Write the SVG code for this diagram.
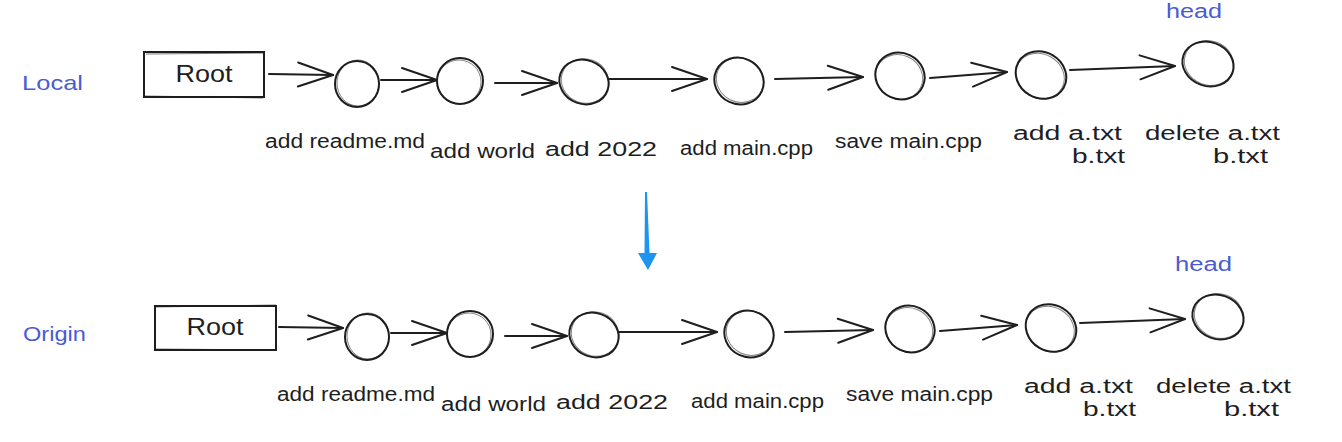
<svg xmlns="http://www.w3.org/2000/svg" width="1342" height="442" viewBox="0 0 1342 442">
<style>
.bg{fill:#ffffff}
.box{fill:none;stroke:#1e1e1e;stroke-width:2}
.box2{fill:none;stroke:#1e1e1e;stroke-width:1;opacity:.6}
.c{fill:none;stroke:#1e1e1e;stroke-width:2}
.c2{fill:none;stroke:#1e1e1e;stroke-width:1;opacity:.55}
.lbl{font-family:"Liberation Sans",sans-serif;font-size:20px;fill:#1e1e1e}
.root{font-family:"Liberation Sans",sans-serif;font-size:24px;fill:#1e1e1e}
.blue{font-family:"Liberation Sans",sans-serif;font-size:21px;fill:#4a5bd4}
.head{font-family:"Liberation Sans",sans-serif;font-size:20px;fill:#4a5bd4}
.ln{fill:none;stroke:#1e1e1e;stroke-width:2;stroke-linecap:round;marker-end:url(#ah)}
</style>
<defs>
<marker id="ah" markerUnits="userSpaceOnUse" markerWidth="42" markerHeight="30" refX="37" refY="14" orient="auto" viewBox="0 0 42 30">
<path d="M2,2 L37,14 L2,26" fill="none" stroke="#1e1e1e" stroke-width="2" stroke-linecap="round" stroke-linejoin="round"/>
</marker>
</defs>
<rect class="bg" x="0" y="0" width="1342" height="442"/>

<g id="label-local"><text class="blue" x="22" y="90" textLength="61" lengthAdjust="spacingAndGlyphs">Local</text></g>
<g id="label-origin"><text class="blue" x="23" y="341" textLength="63" lengthAdjust="spacingAndGlyphs">Origin</text></g>

<g id="connectors">
<path class="ln" d="M269,74 L333,75"/>
<path class="ln" d="M381,80 L437,80"/>
<path class="ln" d="M495,83 L557,83"/>
<path class="ln" d="M609,79 L707,79"/>
<path class="ln" d="M775,79 L863,77"/>
<path class="ln" d="M930,78 L1007,72"/>
<path class="ln" d="M1070,70 L1175,66"/>
<path class="ln" d="M279,327 L343,328"/>
<path class="ln" d="M391,333 L447,333"/>
<path class="ln" d="M505,336 L567,336"/>
<path class="ln" d="M619,332 L717,332"/>
<path class="ln" d="M785,332 L873,330"/>
<path class="ln" d="M940,331 L1017,325"/>
<path class="ln" d="M1080,323 L1185,319"/>
<path id="sync-arrow" d="M645,192 L647,192 L649.5,253 L657,253 L648,270 L638,253 L644.5,253 Z" fill="#1e93f0"/>
</g>

<!-- Local row -->
<g id="local-root">
<rect class="box" x="144" y="52" width="120" height="45"/>
<path class="box2" d="M146,54 L265,53 M145,96 L263,98"/>
<text class="root" x="204" y="82" text-anchor="middle" textLength="57" lengthAdjust="spacingAndGlyphs">Root</text>
</g>
<g id="local-c1"><ellipse class="c" cx="357" cy="84" rx="22" ry="23"/><ellipse class="c2" cx="358" cy="83" rx="21" ry="23"/>
<text class="lbl" x="265" y="148" textLength="160" lengthAdjust="spacingAndGlyphs">add readme.md</text></g>
<g id="local-c2"><ellipse class="c" cx="460" cy="81" rx="23" ry="23"/><ellipse class="c2" cx="459" cy="82" rx="22" ry="22"/>
<text class="lbl" x="430" y="158" textLength="105" lengthAdjust="spacingAndGlyphs">add world</text></g>
<g id="local-c3"><ellipse class="c" cx="584" cy="82" rx="25" ry="22" transform="rotate(20 584 82)"/><ellipse class="c2" cx="585" cy="81" rx="24" ry="22" transform="rotate(20 585 81)"/>
<text class="lbl" x="545" y="156" textLength="112" lengthAdjust="spacingAndGlyphs">add 2022</text></g>
<g id="local-c4"><ellipse class="c" cx="739" cy="81" rx="25" ry="23" transform="rotate(25 739 81)"/><ellipse class="c2" cx="740" cy="80" rx="24" ry="22" transform="rotate(25 740 80)"/>
<text class="lbl" x="680" y="155" textLength="133" lengthAdjust="spacingAndGlyphs">add main.cpp</text></g>
<g id="local-c5"><ellipse class="c" cx="900" cy="76" rx="25" ry="23" transform="rotate(25 900 76)"/><ellipse class="c2" cx="899" cy="77" rx="24" ry="22" transform="rotate(25 899 77)"/>
<text class="lbl" x="835" y="148" textLength="147" lengthAdjust="spacingAndGlyphs">save main.cpp</text></g>
<g id="local-c6"><ellipse class="c" cx="1041" cy="75" rx="26" ry="23" transform="rotate(30 1041 75)"/><ellipse class="c2" cx="1040" cy="76" rx="25" ry="22" transform="rotate(30 1040 76)"/>
<text class="lbl" x="1013" y="140" textLength="109" lengthAdjust="spacingAndGlyphs">add a.txt</text>
<text class="lbl" x="1072" y="163" textLength="53" lengthAdjust="spacingAndGlyphs">b.txt</text></g>
<g id="local-c7"><ellipse class="c" cx="1208" cy="64" rx="26" ry="22" transform="rotate(20 1208 64)"/><ellipse class="c2" cx="1209" cy="63" rx="25" ry="22" transform="rotate(20 1209 63)"/>
<text class="lbl" x="1145" y="140" textLength="135" lengthAdjust="spacingAndGlyphs">delete a.txt</text>
<text class="lbl" x="1213" y="163" textLength="55" lengthAdjust="spacingAndGlyphs">b.txt</text>
<text class="head" x="1166" y="18" textLength="56" lengthAdjust="spacingAndGlyphs">head</text></g>

<!-- Origin row -->
<g id="origin-root">
<rect class="box" x="155" y="306" width="121" height="44"/>
<path class="box2" d="M156,307 L276,305 M155,349 L277,350"/>
<text class="root" x="215" y="335" text-anchor="middle" textLength="57" lengthAdjust="spacingAndGlyphs">Root</text>
</g>
<g id="origin-c1"><ellipse class="c" cx="367" cy="337" rx="22" ry="23"/><ellipse class="c2" cx="368" cy="336" rx="21" ry="23"/>
<text class="lbl" x="277" y="401" textLength="158" lengthAdjust="spacingAndGlyphs">add readme.md</text></g>
<g id="origin-c2"><ellipse class="c" cx="470" cy="334" rx="23" ry="23"/><ellipse class="c2" cx="469" cy="335" rx="22" ry="22"/>
<text class="lbl" x="441" y="411" textLength="105" lengthAdjust="spacingAndGlyphs">add world</text></g>
<g id="origin-c3"><ellipse class="c" cx="594" cy="335" rx="25" ry="22" transform="rotate(20 594 335)"/><ellipse class="c2" cx="595" cy="334" rx="24" ry="22" transform="rotate(20 595 334)"/>
<text class="lbl" x="556" y="409" textLength="112" lengthAdjust="spacingAndGlyphs">add 2022</text></g>
<g id="origin-c4"><ellipse class="c" cx="749" cy="334" rx="25" ry="23" transform="rotate(25 749 334)"/><ellipse class="c2" cx="750" cy="333" rx="24" ry="22" transform="rotate(25 750 333)"/>
<text class="lbl" x="691" y="408" textLength="133" lengthAdjust="spacingAndGlyphs">add main.cpp</text></g>
<g id="origin-c5"><ellipse class="c" cx="910" cy="329" rx="25" ry="23" transform="rotate(25 910 329)"/><ellipse class="c2" cx="909" cy="330" rx="24" ry="22" transform="rotate(25 909 330)"/>
<text class="lbl" x="846" y="401" textLength="147" lengthAdjust="spacingAndGlyphs">save main.cpp</text></g>
<g id="origin-c6"><ellipse class="c" cx="1051" cy="328" rx="26" ry="23" transform="rotate(30 1051 328)"/><ellipse class="c2" cx="1050" cy="329" rx="25" ry="22" transform="rotate(30 1050 329)"/>
<text class="lbl" x="1024" y="393" textLength="109" lengthAdjust="spacingAndGlyphs">add a.txt</text>
<text class="lbl" x="1083" y="416" textLength="53" lengthAdjust="spacingAndGlyphs">b.txt</text></g>
<g id="origin-c7"><ellipse class="c" cx="1218" cy="317" rx="26" ry="22" transform="rotate(20 1218 317)"/><ellipse class="c2" cx="1219" cy="316" rx="25" ry="22" transform="rotate(20 1219 316)"/>
<text class="lbl" x="1156" y="393" textLength="135" lengthAdjust="spacingAndGlyphs">delete a.txt</text>
<text class="lbl" x="1224" y="416" textLength="55" lengthAdjust="spacingAndGlyphs">b.txt</text>
<text class="head" x="1175" y="271" textLength="57" lengthAdjust="spacingAndGlyphs">head</text></g>
</svg>
